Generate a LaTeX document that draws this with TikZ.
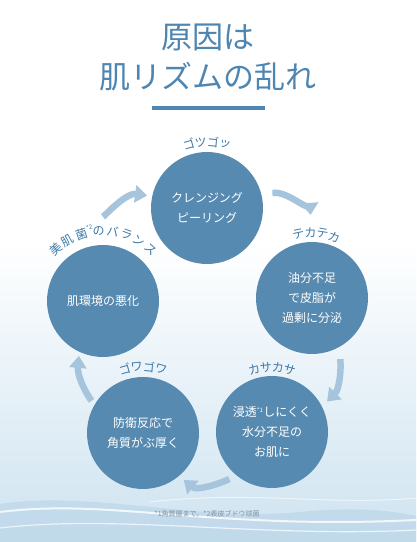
\documentclass[tikz,border=0pt]{standalone}
\usepackage{fontspec}
\setmainfont{Noto Sans CJK JP}
\usetikzlibrary{arrows.meta,positioning,calc}
\definecolor{titleblue}{RGB}{78,134,178}
\definecolor{discblue}{RGB}{87,138,176}
\definecolor{labelblue}{RGB}{62,121,168}
\definecolor{flowblue}{RGB}{166,196,219}
\definecolor{seablue}{RGB}{206,227,240}
\definecolor{deepsea}{RGB}{184,212,231}
\definecolor{notegray}{RGB}{130,146,160}

\begin{document}
\begin{tikzpicture}[
    x=1pt, y=1pt,
    title/.style={text=titleblue, font=\fontsize{31}{31}\selectfont, inner sep=0pt},
    disc/.style={circle, fill=discblue, minimum size=112pt, inner sep=0pt, align=center,
      text=white, font=\fontsize{12}{20}\selectfont},
    lab/.style={text=labelblue, font=\fontsize{12}{12}\selectfont, inner sep=0pt},
    flow/.style={draw=flowblue, line width=6.5pt, -{Triangle[width=17pt,length=12pt]}},
    note/.style={text=notegray, font=\fontsize{7}{7}\selectfont}
  ]
    % background
    \useasboundingbox (0,0) rectangle (416,542);
    \fill[white] (0,0) rectangle (416,542);
    \shade[top color=white, bottom color=seablue] (0,0) rectangle (416,300);
    \fill[deepsea, opacity=0.6] (0,0) -- (0,38) .. controls (90,52) and (200,20) .. (300,30)
      .. controls (360,36) and (400,30) .. (416,26) -- (416,0) -- cycle;
    \draw[white, line width=2pt, opacity=0.8] (0,30) .. controls (110,44) and (210,12) .. (416,22);
    \draw[white, line width=1.2pt, opacity=0.7] (0,14) .. controls (120,28) and (260,4) .. (416,12);
    \draw[white, line width=1pt, opacity=0.6] (150,40) .. controls (250,52) and (330,36) .. (416,44);

    % title
    \node[title] (head1) at (208,505) {原因は};
    \node[title] (head2) at (208,465) {肌リズムの乱れ};
    \draw[titleblue, line width=3.5pt] (152,434) -- (265,434);

    % cycle
    \node[disc] (cleanse) at (207,334) {クレンジング\\ピーリング};
    \node[disc] (oily) at (312,244) {油分不足\\で皮脂が\\過剰に分泌};
    \node[disc] (dry) at (272,110) {浸透\textsuperscript{\fontsize{6}{6}\selectfont *1}しにくく\\水分不足の\\お肌に};
    \node[disc] (thick) at (143,109) {防衛反応で\\角質がぶ厚く};
    \node[disc] (flora) at (103,241) {肌環境の悪化};

    \draw[flow, shorten <=28pt, shorten >=5pt] (flora.90) to[out=90, in=172] (cleanse.168);
    \draw[flow, shorten <=11pt, shorten >=27pt] (cleanse.14) to[out=8, in=95] (oily.89);
    \draw[flow, shorten <=12pt, shorten >=7pt] (oily.-61) to[out=-85, in=45] (dry.27);
    \draw[flow, shorten <=8pt, shorten >=6pt] (dry.231) to[out=205, in=-40] (thick.-50);
    \draw[flow, shorten <=5pt, shorten >=4pt] (thick.150) to[out=125, in=-95] (flora.245);

    % labels on arcs
    \foreach \ch [count=\i, evaluate=\i as \a using 106-(\i-1)*10.6] in {ゴ,ツ,ゴ,ッ}
      \node[lab, rotate=\a-90] (rough\i) at ([shift={(\a:66)}]cleanse.center) {\ch};
    \foreach \ch [count=\i, evaluate=\i as \a using 102-(\i-1)*10.6] in {テ,カ,テ,カ}
      \node[lab, rotate=\a-90] (shiny\i) at ([shift={(\a:65)}]oily.center) {\ch};
    \foreach \ch [count=\i, evaluate=\i as \a using 106-(\i-1)*10.6] in {カ,サ,カ,サ}
      \node[lab, rotate=\a-90] (parch\i) at ([shift={(\a:65)}]dry.center) {\ch};
    \foreach \ch [count=\i, evaluate=\i as \a using 106-(\i-1)*10.6] in {ゴ,ワ,ゴ,ワ}
      \node[lab, rotate=\a-90] (stiff\i) at ([shift={(\a:66)}]thick.center) {\ch};
    \foreach \a/\ch [count=\i] in {132/美, 120/肌, 108/菌, 93.5/の, 82/バ, 70.5/ラ, 59/ン, 47.5/ス}
      \node[lab, rotate=\a-90] (bal\i) at ([shift={(\a:70)}]flora.center) {\ch};
    \node[lab, rotate=10, font=\fontsize{6}{6}\selectfont] (balstar) at ([shift={(100.5:75)}]flora.center) {*2};

    % footnote
    \node[note] (foot) at (207,28) {*1角質層まで。*2表皮ブドウ球菌};
  \end{tikzpicture}
\end{document}
